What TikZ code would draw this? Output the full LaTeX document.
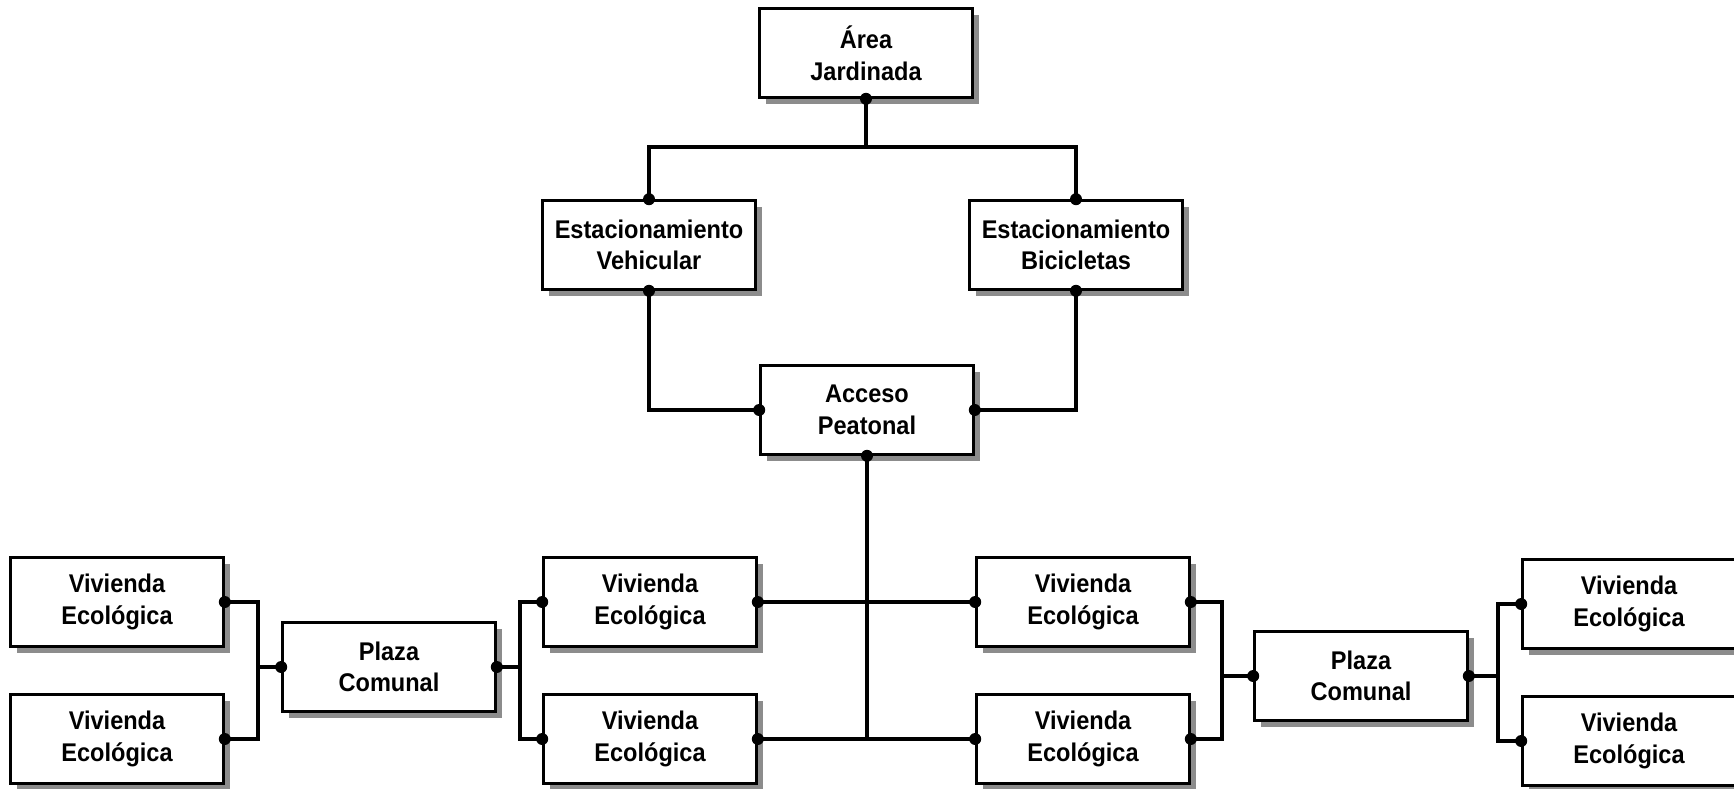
\documentclass[tikz,border=0pt]{standalone}
\usepackage{fontspec}
\setmainfont{Liberation Sans}[FakeStretch=0.92]
\usetikzlibrary{shadows}
\tikzset{
caja/.style={draw,line width=1.3pt,fill=white,minimum width=106.5pt,minimum height=44.5pt,align=center,font=\bfseries\fontsize{12.8}{15.8}\selectfont,drop shadow={shadow xshift=3pt,shadow yshift=-3.2pt,fill=black!45,opacity=1}},
enlace/.style={line width=2pt},
punto/.style={fill=black}
}
\begin{document}
\begin{tikzpicture}[x=0.5pt,y=-0.5pt]
\useasboundingbox(0,0)rectangle(1734,788);
\fill[white](0,0)rectangle(1734,788);
%top
\node[caja](are) at (866,53){Área\\Jardinada};
\node[caja](veh) at (649,245){Estacionamiento\\Vehicular};
\node[caja](bic) at (1076,245){Estacionamiento\\Bicicletas};
\node[caja](acc) at (867,410){Acceso\\Peatonal};
%viviendas y plazas
\node[caja](v1) at (117,602){Vivienda\\Ecológica};
\node[caja](v2) at (117,739){Vivienda\\Ecológica};
\node[caja](pl) at (389,667){Plaza\\Comunal};
\node[caja](v3) at (650,602){Vivienda\\Ecológica};
\node[caja](v4) at (650,739){Vivienda\\Ecológica};
\node[caja](v5) at (1083,602){Vivienda\\Ecológica};
\node[caja](v6) at (1083,739){Vivienda\\Ecológica};
\node[caja](pr) at (1361,676){Plaza\\Comunal};
\node[caja](v7) at (1629,604){Vivienda\\Ecológica};
\node[caja](v8) at (1629,741){Vivienda\\Ecológica};
%links
\coordinate(top) at (866,147);
\draw[enlace](veh.north)|-(top)-|(bic.north);
\draw[enlace](are.south)--(top);
\draw[enlace](veh.south)|-(acc.west);
\draw[enlace](bic.south)|-(acc.east);
\draw[enlace](acc.south)--(acc.south|-v4.east);
\draw[enlace](v3.east)--(v5.west);
\draw[enlace](v4.east)--(v6.west);
%brackets
\coordinate(c1) at (258,0);
\coordinate(c2) at (520,0);
\coordinate(c3) at (1222,0);
\coordinate(c4) at (1498,0);
\draw[enlace](v1.east)-|(c1|-pl.west)|-(v2.east);
\draw[enlace](c1|-pl.west)--(pl.west);
\draw[enlace](v3.west)-|(c2|-pl.east)|-(v4.west);
\draw[enlace](c2|-pl.east)--(pl.east);
\draw[enlace](v5.east)-|(c3|-pr.west)|-(v6.east);
\draw[enlace](c3|-pr.west)--(pr.west);
\draw[enlace](v7.west)-|(c4|-pr.east)|-(v8.west);
\draw[enlace](c4|-pr.east)--(pr.east);
%dots
\foreach \p in {are.south,veh.north,veh.south,bic.north,bic.south,acc.west,acc.east,acc.south,v1.east,v2.east,pl.west,pl.east,v3.west,v4.west,v3.east,v4.east,v5.west,v6.west,v5.east,v6.east,pr.west,pr.east,v7.west,v8.west}{\fill[punto](\p)circle[radius=3pt];}
\end{tikzpicture}
\end{document}
